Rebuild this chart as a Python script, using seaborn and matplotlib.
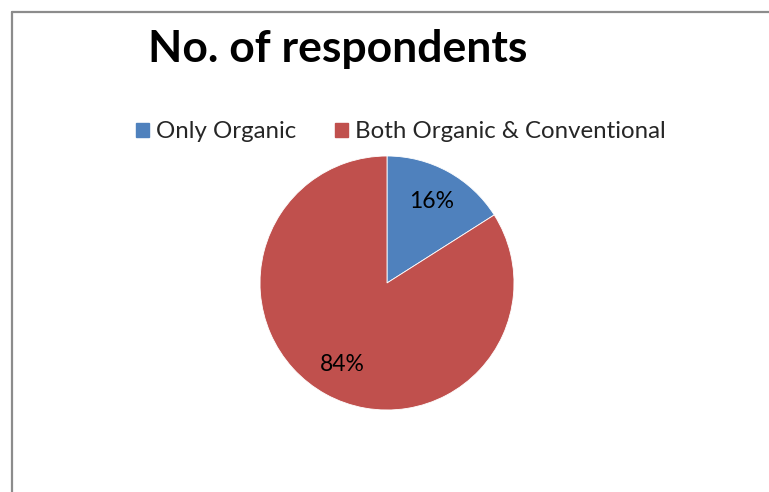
import matplotlib
matplotlib.use("Agg")
import matplotlib.pyplot as plt
import matplotlib.patches as mpatches
from matplotlib.lines import Line2D
import seaborn as sns

categories = ["Only Organic", "Both Organic & Conventional"]
shares     = [16, 84]
colors     = ["#4F81BD", "#C0504D"]
title      = "No. of respondents"

sns.set_theme(style="white")
plt.rcParams["font.family"] = ["Lato", "DejaVu Sans"]

W, H = 769, 492
fig = plt.figure(figsize=(W / 100, H / 100), dpi=100)
fig.patch.set_facecolor("white")

# pie axes: center (387, 283), radius 127 px
cx, cy, r = 387, 283, 127
ax = fig.add_axes([(cx - r) / W, (H - cy - r) / H, 2 * r / W, 2 * r / H])
wedges, texts, autotexts = ax.pie(
    shares, colors=colors, startangle=90, counterclock=False,
    autopct="%d%%", pctdistance=0.73, radius=1,
    wedgeprops=dict(edgecolor="white", linewidth=0.6),
    textprops=dict(fontsize=16.5, color="black"),
)
ax.set_xlim(-1, 1)
ax.set_ylim(-1, 1)
ax.set_aspect("equal")
ax.axis("off")

fig.text(338 / W, 1 - 49 / H, title, ha="center", va="center",
         fontsize=32, fontweight="bold", color="black")

handles = [mpatches.Patch(color=c, label=l) for c, l in zip(colors, categories)]
fig.legend(handles=handles, loc="center", bbox_to_anchor=(401 / W, 1 - 132 / H),
           ncol=2, frameon=False, fontsize=17.3, handlelength=0.55, handleheight=0.55,
           handletextpad=0.3, columnspacing=1.6)

# chart-area border (left and top)
lx, ty = 11.5 / W, 1 - 11.5 / H
fig.add_artist(Line2D([lx, lx], [0, ty], color="#8c8c8c", lw=1.6, transform=fig.transFigure))
fig.add_artist(Line2D([lx, 1], [ty, ty], color="#8c8c8c", lw=1.6, transform=fig.transFigure))

fig.savefig("out.png", dpi=100)
